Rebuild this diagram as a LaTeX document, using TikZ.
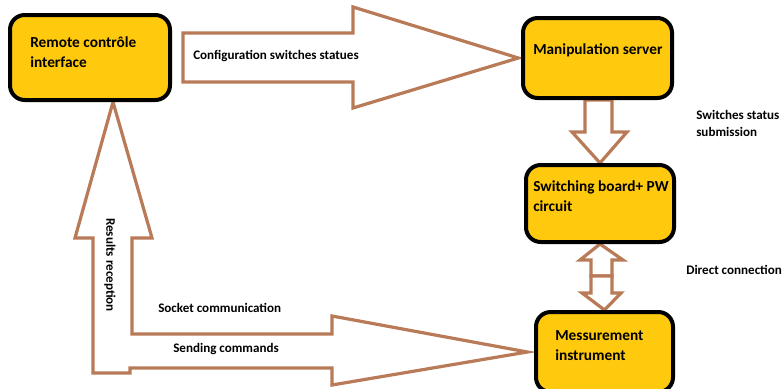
\documentclass[tikz,border=0pt]{standalone}
\usepackage{fontspec}
\setmainfont{Carlito}
\usetikzlibrary{backgrounds}
\definecolor{boxyellow}{HTML}{FFC90E}
\definecolor{arrowbrown}{HTML}{B97A57}
\begin{document}
\begin{tikzpicture}[x=0.75pt,y=-0.75pt,
		box/.style={draw=black, fill=boxyellow, line width=3pt, rounded corners=11pt},
		boxtext/.style={anchor=west, inner sep=0pt, align=left, font=\bfseries\fontsize{11.5}{15}\selectfont},
		lbl/.style={anchor=west, inner sep=0pt, align=left, font=\bfseries\fontsize{9.8}{12.75}\selectfont},
		blockarrow/.style={draw=arrowbrown, fill=white, line width=2.4pt, line join=miter}]
		\useasboundingbox (0,0) rectangle (782,389);
		\clip (0,0) rectangle (782,389);

		\node[box, minimum width=120pt, minimum height=63.75pt] (remote) at (90,57.5) {};
		\node[box, minimum width=111.75pt, minimum height=60pt] (manip) at (597.5,58) {};
		\node[box, minimum width=111pt, minimum height=57.75pt] (switch) at (600,203.5) {};
		\node[box, minimum width=102.75pt, minimum height=60pt] (meas) at (604.5,352) {};

		\node[boxtext] (remotetxt) at (30,52) {Remote contrôle\\interface};
		\node[boxtext] (maniptxt) at (533,50) {Manipulation server};
		\node[boxtext] (switchtxt) at (533,196) {Switching board+ PW\\circuit};
		\node[boxtext] (meastxt) at (555,345.5) {Messurement\\instrument};

		\begin{scope}[on background layer]
		% configuration arrow
		\draw[blockarrow] (183,33) -- (353,33) -- (353,7) -- ([xshift=-2]manip.west) -- (353,108) -- (353,82) -- (183,82) -- cycle;
		% submission arrow
		\draw[blockarrow] (585,100) -- (612,100) -- (612,132) -- (627,132) -- (switch.north) -- (572,132) -- (585,132) -- cycle;
		% direct connection, both ways
		\draw[blockarrow] (591,276) -- (591,260) -- (580,260) -- (switch.south) -- (623,260) -- (612,260) -- (612,276) -- cycle;
		\draw[blockarrow] (591,276) -- (591,293) -- (582,293) -- (meas.north) -- (621,293) -- (612,293) -- (612,276) -- cycle;
		% socket communication
		\draw[blockarrow] (remote.south -| 113,0) -- (152,238) -- (132,238) -- (132,334) -- (332,334) -- (332,316) -- ([xshift=-5]meas.west) -- (332,385) -- (332,368) -- (130,368) -- (130,373) -- (93,373) -- (93,238) -- (75,238) -- cycle;
		\end{scope}

		\node[lbl] (cfg) at (193,56) {Configuration switches statues};
		\node[lbl] (subm) at (696,123.5) {Switches status\\submission};
		\node[lbl] (direct) at (686,270) {Direct connection};
		\node[lbl] (socket) at (158,308) {Socket communication};
		\node[lbl] (sending) at (173,349) {Sending commands};
		\node[lbl, anchor=center, rotate=-90] (results) at (110,265) {Results reception};
\end{tikzpicture}
\end{document}
